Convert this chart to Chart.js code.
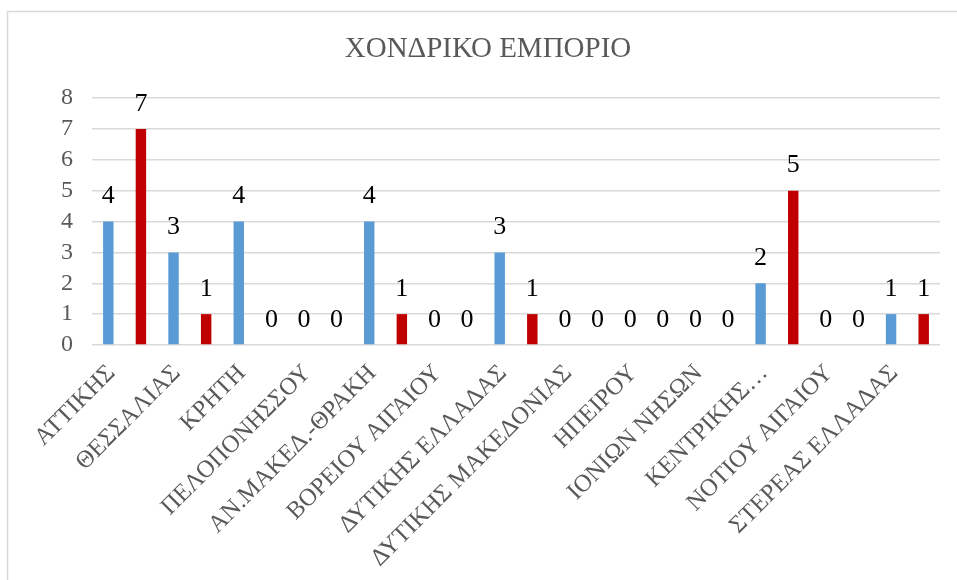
<!DOCTYPE html>
<html>
<head>
<meta charset="utf-8">
<script src="https://cdn.jsdelivr.net/npm/chart.js"></script>
<style>
  body { margin: 0; background: #fff; }
  #wrap { width: 957px; height: 580px; }
</style>
</head>
<body>
<div id="wrap"><canvas id="wholesaleChart" width="957" height="580"></canvas></div>
<script>
const chartTitle = 'ΧΟΝΔΡΙΚΟ ΕΜΠΟΡΙΟ';
const regions = ['ΑΤΤΙΚΗΣ', 'ΘΕΣΣΑΛΙΑΣ', 'ΚΡΗΤΗ', 'ΠΕΛΟΠΟΝΗΣΣΟΥ', 'ΑΝ.ΜΑΚΕΔ.-ΘΡΑΚΗ',
    'ΒΟΡΕΙΟΥ ΑΙΓΑΙΟΥ', 'ΔΥΤΙΚΗΣ ΕΛΛΑΔΑΣ', 'ΔΥΤΙΚΗΣ ΜΑΚΕΔΟΝΙΑΣ', 'ΗΠΕΙΡΟΥ',
    'ΙΟΝΙΩΝ ΝΗΣΩΝ', 'ΚΕΝΤΡΙΚΗΣ…', 'ΝΟΤΙΟΥ ΑΙΓΑΙΟΥ', 'ΣΤΕΡΕΑΣ ΕΛΛΑΔΑΣ'];
const blueValues = [4, 3, 4, 0, 4, 0, 3, 0, 0, 0, 2, 0, 1];
const redValues = [7, 1, 0, 0, 1, 0, 1, 0, 0, 0, 5, 0, 1];
const yTicks = [0, 1, 2, 3, 4, 5, 6, 7, 8];

const serif = "'Liberation Serif', 'Times New Roman', serif";

// border of the chart box + the title
const frame = {
    id: 'frame',
    beforeDraw(chart) {
        const c = chart.ctx;
        c.save();
        c.strokeStyle = '#d9d9d9';
        c.lineWidth = 1.5;
        c.beginPath();
        c.moveTo(7.5, 600);
        c.lineTo(7.5, 11.5);
        c.lineTo(980, 11.5);
        c.stroke();
        c.fillStyle = '#595959';
        c.font = '29px ' + serif;
        c.textAlign = 'center';
        c.textBaseline = 'middle';
        c.fillText(chartTitle, 488, 49);
        c.restore();
    }
};

// numbers above the bars
const valueLabels = {
    id: 'valueLabels',
    afterDatasetsDraw(chart) {
        const c = chart.ctx;
        c.save();
        c.fillStyle = '#000';
        c.font = '26px ' + serif;
        c.textAlign = 'center';
        c.textBaseline = 'middle';
        chart.data.datasets.forEach((ds, i) => {
            chart.getDatasetMeta(i).data.forEach((bar, j) => {
                c.fillText(ds.data[j], bar.x, bar.y - 25);
            });
        });
        c.restore();
    }
};

new Chart(document.getElementById('wholesaleChart'), {
    type: 'bar',
    data: {
        labels: regions,
        datasets: [{
            data: blueValues,
            backgroundColor: '#5b9bd5',
            categoryPercentage: 1.0,
            barPercentage: 0.32
        }, {
            data: redValues,
            backgroundColor: '#c00000',
            categoryPercentage: 1.0,
            barPercentage: 0.32
        }]
    },
    options: {
        responsive: false,
        animation: false,
        layout: { padding: { left: 10, right: 17, top: 98, bottom: 0 } },
        plugins: {
            legend: { display: false },
            title: { display: false },
            tooltip: { enabled: false }
        },
        scales: {
            y: {
                min: yTicks[0],
                max: yTicks[yTicks.length - 1],
                afterFit(scale) { scale.width = 82; },
                afterBuildTicks(scale) { scale.ticks = yTicks.map(v => ({ value: v })); },
                border: { display: false },
                grid: { color: '#d9d9d9', lineWidth: 1.5, drawTicks: false },
                ticks: { color: '#595959', padding: 19, autoSkip: false, font: { family: serif, size: 24 } }
            },
            x: {
                afterFit(scale) { scale.height = 235; },
                border: { display: false },
                grid: { display: false },
                ticks: {
                    color: '#595959',
                    autoSkip: false,
                    minRotation: 45,
                    maxRotation: 45,
                    padding: 6,
                    labelOffset: -13,
                    font: { family: serif, size: 24.5 }
                }
            }
        }
    },
    plugins: [frame, valueLabels]
});
</script>
</body>
</html>
